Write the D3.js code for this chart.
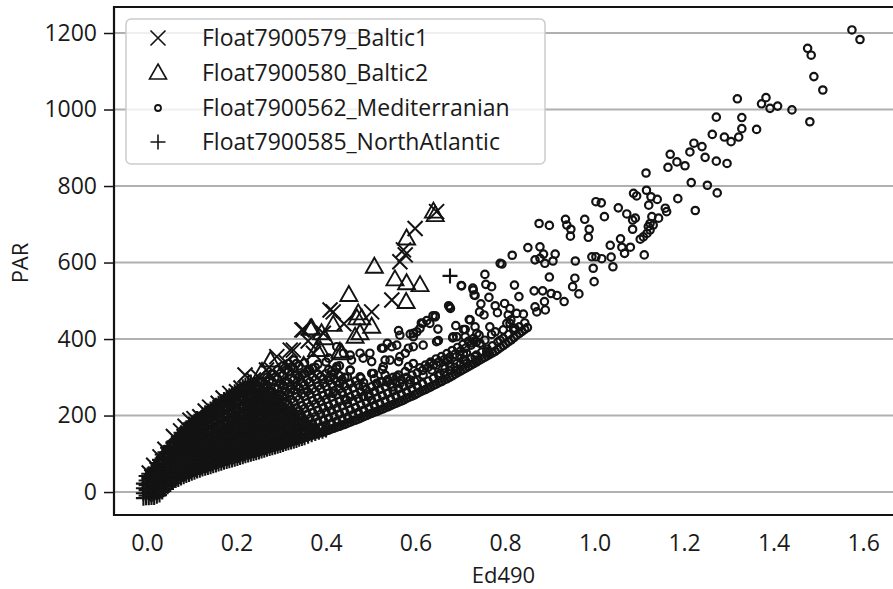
<!DOCTYPE html>
<html>
<head>
<meta charset="utf-8">
<script src="https://cdn.jsdelivr.net/npm/d3@7"></script>
<style>
  body { margin: 0; background: #fff; }
  text { font-family: "Open Sans", sans-serif; fill: #1a1a1a; }
</style>
</head>
<body>
<div id="chart"></div>
<script>
const width = 893, height = 589;
const margin = { top: 7, right: -1, bottom: 74, left: 114 };

const xTicks = [0.0, 0.2, 0.4, 0.6, 0.8, 1.0, 1.2, 1.4, 1.6];
const yTicks = [0, 200, 400, 600, 800, 1000, 1200];
const seriesNames = ["Float7900579_Baltic1", "Float7900580_Baltic2", "Float7900562_Mediterranian", "Float7900585_NorthAtlantic"];

// North Atlantic: dense core near origin, read column by column [Ed490, [PAR...]]
const atlanticCols = [
  [-0.008, [-16, -3, 10, 22]],
  [0.004, [-15, -2, 12, 25, 37, 48]],
  [0.016, [-14, 0, 14, 27, 40, 52, 62]],
  [0.028, [-8, 6, 20, 33, 47, 60, 73, 84]],
  [0.040, [8, 21, 34, 48, 62, 76, 90, 104]],
  [0.052, [20, 33, 47, 61, 75, 90, 105, 120]],
  [0.064, [30, 43, 57, 72, 86, 100, 115, 134]],
  [0.076, [37, 51, 65, 80, 95, 110, 125, 140, 155]],
  [0.088, [43, 57, 72, 87, 102, 118, 134, 150, 168]],
  [0.100, [49, 63, 78, 94, 110, 126, 142, 158, 174, 182]],
  [0.112, [55, 69, 85, 101, 117, 133, 149, 165, 180, 192]],
  [0.124, [60, 75, 91, 107, 123, 140, 156, 172, 188, 202]],
  [0.136, [64, 80, 96, 113, 130, 147, 164, 180, 196, 212]],
  [0.148, [69, 85, 102, 119, 136, 153, 170, 188, 205, 222]],
  [0.160, [73, 90, 107, 125, 142, 160, 178, 196, 214, 232]],
  [0.172, [78, 95, 113, 131, 149, 167, 185, 204, 223, 242]],
  [0.184, [82, 100, 118, 137, 155, 174, 193, 212, 232, 252]],
  [0.196, [86, 105, 124, 143, 162, 181, 200, 220, 240, 262]],
  [0.208, [90, 110, 129, 149, 168, 188, 208, 228, 249, 270]],
  [0.220, [95, 115, 135, 155, 175, 196, 216, 237, 258, 280]],
  [0.232, [99, 119, 140, 161, 182, 203, 224, 245, 266, 288]],
  [0.244, [103, 124, 145, 167, 189, 210, 232, 254, 276]],
  [0.256, [107, 129, 151, 173, 195, 217, 240, 262, 282]],
  [0.268, [112, 134, 157, 180, 202, 225, 248, 262]],
  [0.280, [116, 139, 162, 186, 209, 232, 255]],
  [0.292, [120, 144, 168, 192, 216, 240]],
  [0.304, [124, 149, 174, 198, 222, 242]],
  [0.316, [129, 154, 179, 204, 215]],
  [0.328, [133, 158, 184, 210]],
  [0.340, [138, 163, 185]],
  [0.352, [142, 168, 186]],
  [0.368, [150, 172]],
  [0.384, [156]],
  [0.400, [162]]
];
// North Atlantic: second pass of the core, between the columns above
const atlanticColsB = [
  [-0.002, [-15, -9, 5, 18, 30, 42]],
  [0.010, [-14, -8, 6, 20, 33, 45, 57]],
  [0.022, [-11, -4, 10, 24, 37, 50, 63, 76]],
  [0.034, [0, 6, 20, 34, 47, 61, 75, 88, 98]],
  [0.046, [14, 21, 34, 47, 61, 75, 90, 104, 116]],
  [0.058, [25, 32, 45, 59, 74, 88, 102, 117, 130]],
  [0.070, [33, 41, 54, 68, 83, 98, 112, 127, 144]],
  [0.082, [40, 47, 61, 76, 91, 106, 121, 137, 152, 163]],
  [0.094, [46, 53, 67, 82, 98, 113, 129, 145, 161, 178]],
  [0.106, [52, 59, 73, 89, 105, 121, 137, 153, 169, 185]],
  [0.118, [57, 65, 79, 95, 111, 127, 144, 160, 176, 191]],
  [0.130, [62, 69, 85, 101, 117, 134, 151, 167, 183, 199, 207]],
  [0.142, [66, 74, 90, 106, 123, 140, 157, 174, 191, 208, 217]],
  [0.154, [71, 78, 95, 111, 129, 146, 164, 181, 199, 216, 227]],
  [0.166, [75, 83, 100, 117, 135, 153, 171, 189, 207, 226, 237]],
  [0.178, [80, 87, 105, 123, 141, 159, 178, 196, 215, 235, 247]],
  [0.190, [84, 91, 109, 128, 147, 165, 185, 204, 223, 243, 257]],
  [0.202, [88, 95, 115, 134, 153, 172, 192, 211, 231, 252, 266]],
  [0.214, [92, 100, 120, 139, 159, 179, 199, 219, 240, 261, 275]],
  [0.226, [97, 104, 124, 145, 165, 186, 207, 228, 248, 269, 284]],
  [0.238, [101, 108, 129, 150, 171, 193, 214, 235, 257, 278]],
  [0.250, [105, 113, 134, 156, 178, 200, 221, 243, 265, 280]],
  [0.262, [109, 117, 139, 161, 184, 206, 228, 251, 269]],
  [0.274, [114, 121, 144, 167, 191, 213, 236, 259]],
  [0.286, [118, 125, 149, 172, 196, 220, 243, 252]],
  [0.298, [122, 129, 154, 178, 203, 226, 241]],
  [0.310, [127, 134, 159, 183, 208, 222]],
  [0.322, [131, 138, 163, 188, 212]],
  [0.334, [135, 143, 168, 194, 205]],
  [0.346, [140, 147, 173, 186]],
  [0.360, [146, 160, 178]],
  [0.376, [153, 165]],
  [0.392, [159]]
];
const atlanticPoints = [[0.677, 565]];

// Mediterranean: band along the lower edge, read column by column
const medCols = [
  [0.010, [-12, 0, 12, 24, 36]],
  [0.022, [-8, 5, 18, 31, 44, 57, 68]],
  [0.034, [2, 15, 28, 41, 54, 67, 80]],
  [0.046, [14, 27, 41, 55, 69, 83, 97, 110]],
  [0.058, [25, 39, 53, 67, 82, 97, 112, 126]],
  [0.070, [33, 47, 62, 77, 92, 108, 124, 140]],
  [0.082, [40, 55, 70, 86, 102, 118, 134, 150]],
  [0.094, [46, 61, 77, 94, 110, 127, 144, 160]],
  [0.106, [52, 68, 84, 101, 118, 135, 152, 170]],
  [0.118, [57, 73, 90, 107, 125, 142, 160, 178]],
  [0.130, [62, 79, 96, 114, 132, 150, 168, 186]],
  [0.142, [66, 84, 102, 120, 139, 158, 176, 195]],
  [0.154, [71, 89, 108, 127, 146, 165, 184, 204]],
  [0.166, [76, 94, 114, 133, 153, 172, 192, 212]],
  [0.178, [80, 99, 119, 139, 159, 179, 199, 220]],
  [0.190, [84, 104, 124, 145, 166, 186, 207, 228]],
  [0.202, [88, 109, 130, 151, 172, 193, 214, 236]],
  [0.214, [92, 114, 135, 157, 179, 201, 223, 246]],
  [0.226, [97, 119, 141, 164, 186, 209, 232, 255]],
  [0.238, [101, 124, 147, 170, 193, 216, 239, 262]],
  [0.250, [105, 129, 153, 177, 200, 224, 247, 270]],
  [0.262, [109, 134, 158, 183, 207, 232, 257, 282]],
  [0.274, [114, 139, 164, 189, 214, 240, 266, 292]],
  [0.286, [118, 144, 170, 196, 222, 248, 274, 300]],
  [0.298, [122, 148, 175, 202, 229, 256, 283, 310]],
  [0.310, [126, 153, 181, 208, 236, 263, 290, 318]],
  [0.322, [131, 158, 186, 214, 242, 270, 298, 326]],
  [0.334, [135, 163, 192, 220, 249, 278, 307, 336]],
  [0.346, [140, 168, 197, 226, 256, 286, 306]],
  [0.358, [144, 173, 203, 233, 263, 293, 316]],
  [0.370, [149, 178, 208, 239, 270, 300, 324]],
  [0.382, [153, 183, 214, 245, 277, 308, 334]],
  [0.394, [157, 188, 220, 252, 284, 296]],
  [0.406, [162, 193, 225, 258, 291, 320, 350]],
  [0.418, [167, 198, 231, 264, 296, 312]],
  [0.430, [172, 204, 237, 270, 304, 330]],
  [0.442, [177, 209, 243, 276, 300]],
  [0.454, [183, 215, 249, 284, 318]],
  [0.466, [188, 221, 255, 290]],
  [0.478, [194, 228, 262, 298]],
  [0.490, [200, 234, 268]],
  [0.502, [206, 240, 275, 310]],
  [0.514, [211, 246, 282]],
  [0.526, [217, 252, 288, 320]],
  [0.538, [223, 258, 294]],
  [0.550, [229, 264, 300]],
  [0.562, [235, 270, 306]],
  [0.574, [241, 276]],
  [0.586, [248, 282]],
  [0.598, [254, 290]],
  [0.610, [262, 325]],
  [0.622, [268, 332]],
  [0.634, [275, 340]],
  [0.646, [282, 348]],
  [0.658, [289, 354]],
  [0.670, [296, 362]],
  [0.682, [304, 370]],
  [0.694, [312, 378]],
  [0.706, [320, 386]],
  [0.718, [328, 394]],
  [0.730, [336, 402]],
  [0.742, [344, 410]],
  [0.754, [352]],
  [0.766, [360]],
  [0.778, [368]],
  [0.790, [378]],
  [0.802, [388]],
  [0.814, [398]],
  [0.826, [410]],
  [0.838, [420]],
  [0.850, [430]]
];
// Mediterranean: second pass of the band, between the columns above
const medColsB = [
  [0.232, [100, 112, 136, 158, 181, 204, 228, 250]],
  [0.244, [104, 116, 141, 164, 188, 212, 236, 258]],
  [0.256, [108, 120, 146, 170, 195, 220, 244, 266, 290]],
  [0.268, [112, 124, 151, 176, 202, 228, 254, 280, 300]],
  [0.280, [116, 128, 156, 183, 209, 236, 262, 288, 310]],
  [0.292, [120, 132, 161, 189, 216, 243, 270, 296, 320]],
  [0.304, [124, 137, 166, 195, 223, 250, 278, 305, 330]],
  [0.316, [129, 141, 171, 200, 230, 258, 286, 314, 336]],
  [0.328, [133, 146, 177, 206, 236, 266, 294, 322, 345]],
  [0.340, [138, 150, 182, 212, 243, 273, 302, 330]],
  [0.352, [142, 155, 187, 218, 250, 280, 310, 338]],
  [0.364, [147, 160, 192, 224, 256, 288, 318]],
  [0.376, [151, 165, 197, 230, 263, 294, 326]],
  [0.388, [156, 170, 203, 236, 270, 302]],
  [0.400, [160, 175, 208, 242, 276, 310, 340]],
  [0.412, [165, 180, 213, 248, 282, 316]],
  [0.424, [170, 185, 219, 254, 289, 322]],
  [0.436, [175, 190, 225, 260, 294]],
  [0.448, [180, 196, 231, 266, 300]],
  [0.460, [186, 202, 237, 272]],
  [0.472, [191, 208, 244, 280]],
  [0.484, [197, 214, 250, 286]],
  [0.496, [203, 220, 256]],
  [0.508, [209, 226, 262, 296]],
  [0.520, [214, 232, 268]],
  [0.532, [220, 238, 275, 306]],
  [0.544, [226, 244, 282]],
  [0.556, [232, 250, 288]],
  [0.568, [238, 256, 294]],
  [0.580, [245, 262, 300]],
  [0.592, [251, 269, 306]],
  [0.604, [258, 276, 312]],
  [0.616, [265, 283, 318]],
  [0.628, [272, 290, 326]],
  [0.640, [279, 297, 332]],
  [0.652, [286, 304, 340]],
  [0.664, [293, 311, 346]],
  [0.676, [300, 318, 352]],
  [0.688, [308, 326, 360]],
  [0.700, [316, 334, 368]],
  [0.712, [324, 342, 376]],
  [0.724, [332, 350, 384]],
  [0.736, [340, 358, 392]],
  [0.748, [348, 366]],
  [0.760, [356, 374]],
  [0.772, [364, 382]],
  [0.784, [373, 392]],
  [0.796, [383, 402]],
  [0.808, [393, 412]],
  [0.820, [404, 422]],
  [0.832, [415, 432]],
  [0.844, [425, 442]]
];

// Mediterranean: scattered points of the upper arm
const medPoints = [
  [1.575, 1208], [1.593, 1183], [1.476, 1160], [1.484, 1142], [1.490, 1086], [1.510, 1051], [1.481, 968],
  [1.441, 999], [1.409, 1009], [1.392, 1003], [1.383, 1031], [1.373, 1015], [1.319, 1028], [1.329, 979],
  [1.329, 950], [1.322, 928], [1.305, 916], [1.290, 928], [1.362, 948], [1.272, 980], [1.263, 935],
  [1.240, 903], [1.222, 912], [1.213, 889], [1.247, 875], [1.272, 865], [1.296, 859], [1.169, 883],
  [1.184, 863], [1.202, 853], [1.164, 849], [1.115, 834], [1.216, 809], [1.252, 802], [1.274, 782],
  [1.116, 789], [1.087, 781], [1.094, 774], [1.126, 772], [1.140, 765], [1.186, 767], [1.225, 736],
  [1.121, 750], [1.158, 742], [1.161, 733], [1.128, 720], [1.143, 716], [1.124, 702], [1.131, 698],
  [1.120, 694], [1.124, 685], [1.117, 676], [1.109, 667], [1.102, 661], [1.111, 620], [1.053, 743],
  [1.072, 727], [1.085, 711], [1.091, 716], [1.085, 687], [1.022, 720], [1.003, 759], [1.015, 756],
  [0.978, 713], [0.988, 687], [0.986, 666], [0.935, 713], [0.938, 698], [0.947, 687], [0.946, 669],
  [0.899, 697], [0.876, 702], [1.058, 662], [1.035, 645], [1.061, 640], [1.080, 640], [1.067, 624],
  [1.037, 614], [1.041, 589], [1.016, 610], [0.994, 615], [1.003, 615], [0.997, 585], [0.999, 550],
  [0.957, 604], [0.956, 559], [0.951, 537], [0.965, 518], [0.878, 641], [0.851, 639], [0.886, 622],
  [0.912, 622], [0.878, 611], [0.867, 607], [0.889, 598], [0.907, 604], [0.816, 619], [0.793, 596],
  [0.899, 562], [0.821, 541], [0.831, 511], [0.865, 526], [0.884, 526], [0.903, 519], [0.916, 514],
  [0.932, 498], [0.888, 498], [0.890, 476], [0.867, 484], [0.871, 471], [0.755, 569], [0.702, 540],
  [0.757, 543], [0.770, 537], [0.728, 533], [0.733, 514], [0.764, 509], [0.676, 484], [0.678, 480],
  [0.674, 487], [0.746, 492], [0.743, 471], [0.753, 463], [0.778, 487], [0.783, 469], [0.799, 493],
  [0.811, 480], [0.807, 463], [0.813, 450], [0.822, 428], [0.804, 441], [0.796, 424], [0.841, 465],
  [0.826, 467], [0.720, 451], [0.707, 425], [0.690, 435], [0.644, 461], [0.625, 448], [0.616, 441],
  [0.650, 426], [0.733, 432], [0.737, 415], [0.731, 394], [0.744, 389], [0.766, 432], [0.770, 412],
  [0.789, 397], [0.684, 406], [0.651, 396], [0.759, 367], [0.733, 354], [0.699, 358], [0.693, 319],
  [0.677, 328], [0.714, 336], [0.707, 363], [0.819, 428], [0.811, 441], [0.778, 419], [0.722, 450],
  [0.726, 390], [0.711, 425], [0.692, 406], [0.683, 403], [0.647, 393], [0.632, 441], [0.603, 419],
  [0.595, 406], [0.565, 410], [0.537, 389], [0.528, 376], [0.558, 384], [0.577, 363], [0.595, 380],
  [0.617, 384], [0.714, 363], [0.707, 345], [0.692, 336], [0.670, 345], [0.666, 323], [0.647, 332],
  [0.632, 336], [0.636, 319], [0.655, 310], [0.617, 306], [0.603, 293], [0.588, 293], [0.577, 315],
  [0.584, 328], [0.558, 301], [0.565, 284], [0.550, 275], [0.536, 288], [0.521, 288], [0.509, 262],
  [0.495, 249], [0.483, 249], [0.595, 415], [0.610, 428], [0.644, 458], [0.703, 539], [0.729, 528],
  [0.731, 515], [0.789, 598], [0.711, 406], [0.755, 397], [0.763, 363], [0.673, 345], [0.737, 345],
  [0.524, 376], [0.547, 380], [0.562, 341], [0.584, 376], [0.532, 345], [0.502, 341], [0.476, 363],
  [0.457, 345], [0.439, 363], [0.424, 380], [0.562, 422], [0.639, 461], [0.613, 442], [0.588, 413],
  [0.498, 363], [0.483, 350], [0.454, 358], [0.424, 328], [0.409, 301], [0.454, 319], [0.476, 301],
  [0.431, 284], [0.416, 258], [0.446, 241], [0.483, 275], [0.513, 284], [0.506, 310], [0.528, 328],
  [0.543, 345], [0.565, 354], [0.595, 336]
];

const baltic1 = [
  [0.647, 733], [0.599, 689], [0.573, 633], [0.565, 602], [0.577, 620], [0.547, 502], [0.416, 471],
  [0.502, 471], [0.346, 424], [0.327, 371], [0.409, 476], [0.349, 424], [0.320, 371], [0.290, 354],
  [0.267, 319], [0.238, 293], [0.219, 306], [0.200, 262], [0.029, 92], [0.059, 145], [0.096, 188],
  [0.118, 197], [0.159, 232], [0.185, 258], [0.005, 50], [0.015, 70], [0.040, 112], [0.075, 160],
  [0.085, 172], [0.105, 192], [0.130, 212], [0.140, 222], [0.170, 246], [0.210, 272], [0.250, 300],
  [0.280, 318], [0.310, 340], [0.372, 363], [0.394, 415], [0.360, 395], [0.440, 440]
];

const baltic2 = [
  [0.640, 733], [0.644, 724], [0.580, 663], [0.508, 589], [0.554, 556], [0.580, 546], [0.610, 541],
  [0.579, 497], [0.451, 515], [0.472, 467], [0.480, 454], [0.469, 454], [0.416, 437], [0.502, 432],
  [0.465, 406], [0.476, 415], [0.368, 428], [0.390, 415], [0.431, 367], [0.387, 371], [0.342, 284],
  [0.301, 262], [0.379, 371], [0.346, 275], [0.435, 363], [0.397, 402], [0.365, 427], [0.276, 344],
  [0.257, 314], [0.250, 232], [0.320, 300], [0.350, 330]
];

const flat = cols => cols.flatMap(c => c[1].map(v => [c[0], v]));

const x = d3.scaleLinear().domain([-0.0737, 1.669]).range([margin.left, width - margin.right]);
const y = d3.scaleLinear().domain([-60, 1268]).range([height - margin.bottom, margin.top]);

const svg = d3.select("#chart").append("svg")
  .attr("width", width).attr("height", height);

// grid
svg.append("g").selectAll("line")
  .data(yTicks)
  .join("line")
    .attr("x1", margin.left).attr("x2", width)
    .attr("y1", d => y(d)).attr("y2", d => y(d))
    .attr("stroke", "#b0b0b0").attr("stroke-width", 2);

const ink = "#131313";
const shapes = {
  x: "M-7.5,-7.5L7.5,7.5M-7.5,7.5L7.5,-7.5",
  tri: "M0,-9L8.5,6L-8.5,6Z",
  plus: "M-7.5,0L7.5,0M0,-7.5L0,7.5"
};

const plot = svg.append("g");

plot.selectAll("circle.med")
  .data(flat(medCols).concat(flat(medColsB), medPoints))
  .join("circle")
    .attr("class", "med")
    .attr("cx", d => x(d[0])).attr("cy", d => y(d[1]))
    .attr("r", 3.7)
    .attr("fill", "none").attr("stroke", ink).attr("stroke-width", 2.2);

plot.selectAll("path.na")
  .data(flat(atlanticCols).concat(flat(atlanticColsB), atlanticPoints))
  .join("path")
    .attr("class", "na")
    .attr("transform", d => "translate(" + x(d[0]) + "," + y(d[1]) + ")")
    .attr("d", shapes.plus)
    .attr("fill", "none").attr("stroke", ink).attr("stroke-width", 2.1);

plot.selectAll("path.b1")
  .data(baltic1)
  .join("path")
    .attr("class", "b1")
    .attr("transform", d => "translate(" + x(d[0]) + "," + y(d[1]) + ")")
    .attr("d", shapes.x)
    .attr("fill", "none").attr("stroke", ink).attr("stroke-width", 2);

plot.selectAll("path.b2")
  .data(baltic2)
  .join("path")
    .attr("class", "b2")
    .attr("transform", d => "translate(" + x(d[0]) + "," + y(d[1]) + ")")
    .attr("d", shapes.tri)
    .attr("fill", "none").attr("stroke", ink).attr("stroke-width", 1.9);

// axes
const yAxis = svg.append("g")
  .attr("transform", "translate(" + margin.left + ",0)")
  .call(d3.axisLeft(y).tickValues(yTicks).tickSize(10).tickPadding(7).tickFormat(d3.format("d")));
yAxis.select(".domain").remove();
yAxis.selectAll("line").attr("stroke", ink).attr("stroke-width", 1.5);
yAxis.selectAll("text").style("font-size", "23px").attr("fill", ink);

const xAxis = svg.append("g")
  .attr("transform", "translate(0," + (height - margin.bottom) + ")")
  .call(d3.axisBottom(x).tickValues(xTicks).tickSize(0).tickPadding(20).tickFormat(d3.format(".1f")));
xAxis.select(".domain").remove();
xAxis.selectAll("text").style("font-size", "23px").attr("fill", ink);

// frame
svg.append("path")
  .attr("d", "M" + width + "," + margin.top + "H" + margin.left + "V" + (height - margin.bottom) + "H" + width)
  .attr("fill", "none").attr("stroke", ink).attr("stroke-width", 2.2);

svg.append("text")
  .attr("x", (margin.left + width) / 2).attr("y", 583)
  .attr("text-anchor", "middle")
  .style("font-size", "22px")
  .text("Ed490");

svg.append("text")
  .attr("transform", "translate(28,263) rotate(-90)")
  .attr("text-anchor", "middle")
  .style("font-size", "22px")
  .text("PAR");

// legend
const legend = svg.append("g");
legend.append("rect")
  .attr("x", 126).attr("y", 19).attr("width", 419).attr("height", 145)
  .attr("rx", 5)
  .attr("fill", "#fff").attr("fill-opacity", 0.8)
  .attr("stroke", "#cccccc").attr("stroke-width", 1.5);

const rows = [38, 73, 108, 142];
seriesNames.forEach((name, i) => {
  const g = legend.append("g").attr("transform", "translate(158," + rows[i] + ")");
  if (i === 2) {
    g.append("circle").attr("r", 3).attr("fill", "none").attr("stroke", ink).attr("stroke-width", 1.8);
  } else {
    g.append("path")
      .attr("d", [shapes.x, shapes.tri, null, shapes.plus][i])
      .attr("fill", "none").attr("stroke", ink).attr("stroke-width", 1.6);
  }
  legend.append("text")
    .attr("x", 202).attr("y", rows[i])
    .attr("dy", "0.35em")
    .style("font-size", "23px")
    .text(name);
});
</script>
</body>
</html>
